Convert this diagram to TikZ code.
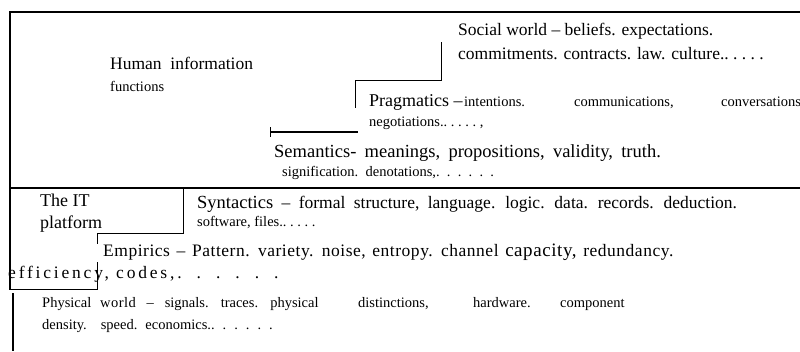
\documentclass[tikz,border=0pt]{standalone}
\usepackage{fontspec}
\setmainfont{Liberation Serif}
\newfontfamily\spacedfont[LetterSpace=16]{Liberation Serif}
\newfontfamily\widefont[LetterSpace=3]{Liberation Serif}

\begin{document}
\begin{tikzpicture}[x=1pt, y=-1pt, font=\fontsize{17.5}{19}\selectfont]
	% --- Parametri ---
	\def\topY{12}
	\def\midY{188}
	\def\leftX{10}

	% --- Stili ---
	\tikzset{
		border/.style={draw=black, line width=2.2pt},
		stair/.style={draw=black, line width=0.9pt},
		txt/.style={anchor=base west, inner sep=0pt},
		small/.style={txt, font=\fontsize{14.5}{16}\selectfont},
	}

	\useasboundingbox (0,0) rectangle (800,351);

	% --- Cornice ---
	\draw[border] (9,\topY) -- (800,\topY);
	\draw[border] (\leftX,\topY) -- (\leftX,290);
	\draw[border] (9,\midY) -- (800,\midY);
	\draw[border] (13,293) -- (13,351);

	% --- Human information functions ---
	\node[txt] (human) at (110,69) {Human\ \ information};
	\node[small] (functions) at (110,91) {functions};

	\node[txt] (social) at (458,35) {Social world \textendash{} beliefs. expectations.};
	\node[txt] (commit) at (458,59) {commitments. contracts. law. culture..\ .\ .\ .\ .};
	\draw[stair] (441,42) |- (355,80) -- (355,108);

	\node[txt, font=\fontsize{18}{19}\selectfont] (prag) at (369,106) {Pragmatics \textendash};
	\node[small] (intent) at (464,106) {intentions.};
	\node[small] (commun) at (574,106) {communications,};
	\node[small] (conv) at (721,106) {conversations};
	\node[small] (nego) at (369,126) {negotiations..\ .\ .\ .\ .\ ,};

	\draw[line width=1.6pt] (270,132) -- (358,132);
	\draw[very thin] (270,127) -- (270,137);
	\node[txt, font=\fontsize{18.5}{19}\selectfont] (sem) at (274,157) {\spaceskip=0.45em\relax Semantics- meanings, propositions, validity, truth.};
	\node[small] (signif) at (282,176) {signification.\ \ denotations,.\ \ .\ \ .\ \ .\ \ .\ \ .};

	% --- The IT platform ---
	\node[txt, font=\fontsize{18}{19}\selectfont] (it) at (40,206) {The IT};
	\node[txt, font=\fontsize{18}{19}\selectfont] (platform) at (40,228) {platform};
	\draw[stair] (183,\midY) |- (97,233) -- (97,244);

	\node[txt] (syn) at (197,208) {\spaceskip=0.48em\relax {\fontsize{18.5}{19}\selectfont Syntactics} \textendash{} formal structure, language. logic. data. records. deduction.};
	\node[small] (soft) at (197,226) {software, files..\ .\ .\ .\ .};

	\node[txt, font=\widefont\fontsize{17.5}{19}\selectfont] (emp) at (103,256) {\spaceskip=0.38em\relax Empirics \textendash{} Pattern. variety. noise, entropy. channel {\fontsize{19}{19}\selectfont capacity,} redundancy.};
	\node[txt, font=\spacedfont\fontsize{17.5}{19}\selectfont] (eff) at (8,278) {efficiency, codes,.\hspace{15pt}.\hspace{15pt}.\hspace{15pt}.\hspace{15pt}.\hspace{15pt}.};
	\draw[stair] (97,262) |- (\leftX,289);

	% --- Physical world ---
	\node[small] (phys) at (42,307) {Physical};
	\node[small] (world) at (100,307) {\spaceskip=0.75em\relax {\widefont world} \textendash{} signals. traces. physical};
	\node[small] (dist) at (358,307) {distinctions,};
	\node[small] (hard) at (473,307) {hardware.};
	\node[small] (comp) at (560,307) {component};
	\node[small] (dens) at (42,329) {density.\hspace{14pt}speed.\hspace{8pt}economics..\hspace{8pt}.\hspace{8pt}.\hspace{8pt}.\hspace{8pt}.\hspace{8pt}.};
\end{tikzpicture}
\end{document}
